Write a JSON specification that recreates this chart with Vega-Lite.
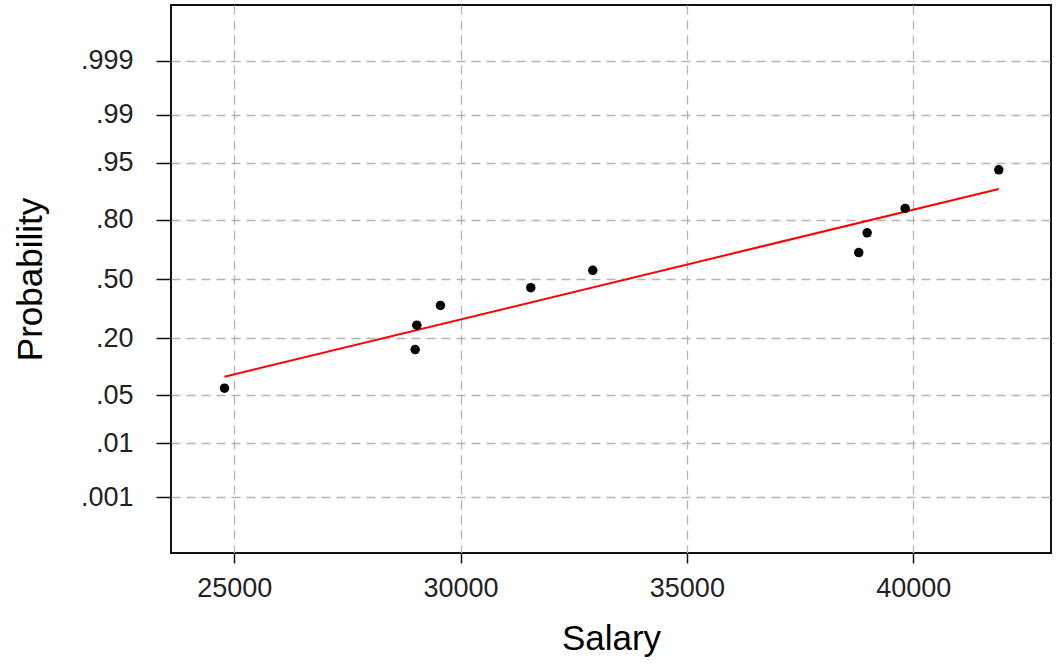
{
  "$schema": "https://vega.github.io/schema/vega-lite/v6.json",
  "autosize": {"type": "none"},
  "padding": {"left": 171, "top": 5, "right": 4, "bottom": 115},
  "width": 880,
  "height": 548,
  "background": "white",
  "config": {
    "view": {"stroke": "#111111", "strokeWidth": 2},
    "axis": {
      "labelFont": "Liberation Sans",
      "labelFontSize": 27,
      "labelColor": "#222222",
      "titleFont": "Liberation Sans",
      "titleFontSize": 35,
      "titleFontWeight": "normal",
      "titleColor": "#000000",
      "domain": false,
      "tickColor": "#111111",
      "tickWidth": 1.5,
      "gridColor": "#b4b4b4",
      "gridDash": [9, 6],
      "gridWidth": 1.3
    }
  },
  "datasets": {
    "points": [
      {"Salary": 24786, "z": -1.547},
      {"Salary": 28998, "z": -1.0},
      {"Salary": 29034, "z": -0.655},
      {"Salary": 29557, "z": -0.375},
      {"Salary": 31552, "z": -0.123},
      {"Salary": 32921, "z": 0.123},
      {"Salary": 38797, "z": 0.375},
      {"Salary": 38983, "z": 0.655},
      {"Salary": 39822, "z": 1.0},
      {"Salary": 41890, "z": 1.547}
    ],
    "fit": [
      {"Salary": 24786, "z": -1.385},
      {"Salary": 41890, "z": 1.276}
    ]
  },
  "layer": [
    {
      "data": {"name": "fit"},
      "mark": {"type": "line", "color": "#ff0000", "strokeWidth": 2},
      "encoding": {
        "x": {
          "field": "Salary", "type": "quantitative",
          "scale": {"domain": [23604, 43044], "nice": false, "zero": false},
          "axis": {
            "title": "Salary",
            "values": [25000, 30000, 35000, 40000],
            "format": "d",
            "tickSize": 10,
            "labelPadding": 12,
            "titlePadding": 20
          }
        },
        "y": {
          "field": "z", "type": "quantitative",
          "scale": {"domain": [-3.884, 3.884], "nice": false, "zero": false},
          "axis": {
            "title": "Probability",
            "values": [-3.0902, -2.3263, -1.6449, -0.8416, 0, 0.8416, 1.6449, 2.3263, 3.0902],
            "labelExpr": "datum.value > 3 ? '.999' : datum.value > 2 ? '.99' : datum.value > 1.5 ? '.95' : datum.value > 0.5 ? '.80' : datum.value > -0.5 ? '.50' : datum.value > -1 ? '.20' : datum.value > -2 ? '.05' : datum.value > -3 ? '.01' : '.001'",
            "tickSize": 15,
            "labelPadding": 23,
            "titlePadding": 32
          }
        }
      }
    },
    {
      "data": {"name": "points"},
      "mark": {"type": "circle", "color": "#000000", "opacity": 1, "size": 90},
      "encoding": {
        "x": {"field": "Salary", "type": "quantitative"},
        "y": {"field": "z", "type": "quantitative"}
      }
    }
  ]
}
